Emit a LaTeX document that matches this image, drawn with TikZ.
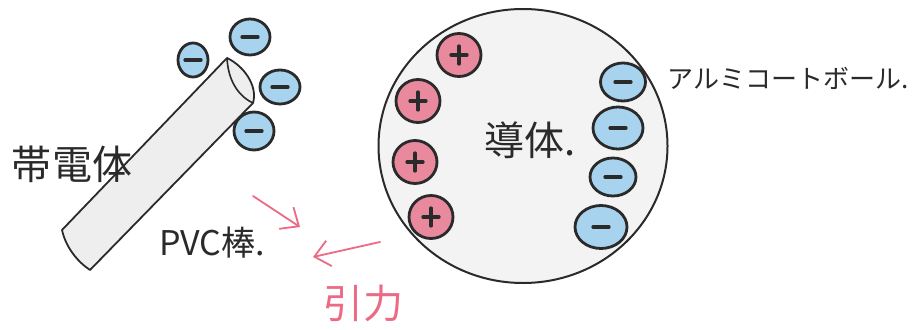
\documentclass[tikz,border=0pt]{standalone}
\usepackage{fontspec}
\newfontfamily\jp{Noto Sans CJK JP}
\usetikzlibrary{shapes.geometric,arrows.meta}
\definecolor{negblue}{HTML}{A8D3EE}
\definecolor{posred}{HTML}{E8899E}
\definecolor{forcepink}{HTML}{EC6A84}
\definecolor{bodygray}{HTML}{EEEEEE}
\definecolor{ink}{HTML}{2A2A2A}
\tikzset{
  charge/.style={ellipse, draw=ink, line width=2.8pt, inner sep=0pt},
  negcharge/.style 2 args={charge, fill=negblue, minimum width=#1, minimum height=#2,
    path picture={\draw[line width=3.2pt, line cap=round, ink]
      ([xshift=-8pt]path picture bounding box.center) -- ([xshift=8pt]path picture bounding box.center);}},
  poscharge/.style={charge, fill=posred, minimum width=44, minimum height=43,
    path picture={\draw[line width=3.2pt, line cap=round, ink]
      ([xshift=-8pt]path picture bounding box.center) -- ([xshift=8pt]path picture bounding box.center)
      ([yshift=-9pt]path picture bounding box.center) -- ([yshift=9pt]path picture bounding box.center);}},
  jptext/.style={text=ink, inner sep=0pt},
  force/.style={draw=forcepink, line width=1.8pt, line cap=round,
    -{Straight Barb[length=15pt,width=26pt,line width=1.8pt]}},
}
\begin{document}
\begin{tikzpicture}[x=1pt, y=-1pt]
\useasboundingbox (0,0) rectangle (920,329);
\fill[white] (0,0) rectangle (920,329);

% charged PVC rod
\draw[ink, line width=1.8pt, fill=bodygray, line join=round]
  (62,230) -- (227,58) .. controls (244,66) and (258,86) .. (253,103)
  -- (90,270) .. controls (78,262) and (66,248) .. cycle;
\draw[ink, line width=1.6pt]
  (227,58) .. controls (228,80) and (238,96) .. (253,103);

% electrons on the rod tip
\node[negcharge={30}{34}] (r1) at (193,60) {};
\node[negcharge={40}{36}] (r2) at (250,37) {};
\node[negcharge={40}{34}] (r3) at (280,87) {};
\node[negcharge={40}{38}] (r4) at (254,131) {};

% conductor (aluminium coated ball)
\node[ellipse, draw=ink, line width=2pt, fill=bodygray!70, minimum width=289, minimum height=274] (cond) at (523,146) {};

\node[poscharge] (p1) at (459,55) {};
\node[poscharge] (p2) at (418,101) {};
\node[poscharge] (p3) at (415,162) {};
\node[poscharge] (p4) at (431,217) {};

\node[negcharge={45}{38}] (n1) at (623,82) {};
\node[negcharge={50}{42}] (n2) at (618,128) {};
\node[negcharge={46}{38}] (n3) at (613,177) {};
\node[negcharge={52}{43}] (n4) at (601,227) {};

% labels
\node[jptext, font=\jp\fontsize{40}{40}\selectfont] (tcond) at (530,140) {導体.};
\node[jptext, font=\jp\fontsize{40}{40}\selectfont] (trod) at (72,164) {帯電体};
\node[jptext, font=\jp\fontsize{34}{34}\selectfont] (tpvc) at (212,243) {PVC棒.};
\node[jptext, font=\jp\fontsize{26}{26}\selectfont] (tball) at (788,78) {アルミコートボール.};
\node[jptext, font=\jp\fontsize{40}{40}\selectfont, text=forcepink] (tforce) at (363,303) {引力};

% attraction arrows
\coordinate (a1s) at (253,196);
\coordinate (a1e) at (300,227);
\coordinate (a2s) at (380,242);
\coordinate (a2e) at (313,257);
\draw[force] (a1s) -- (a1e);
\draw[force] (a2s) -- (a2e);
\end{tikzpicture}
\end{document}
